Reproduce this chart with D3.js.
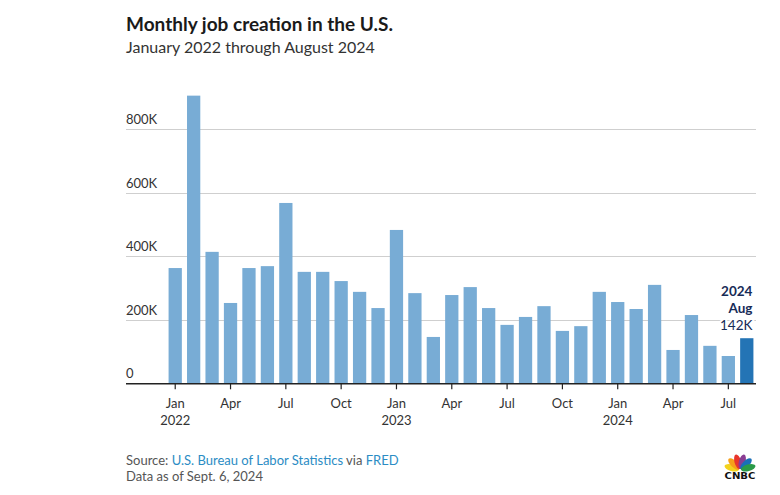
<!DOCTYPE html>
<html><head><meta charset="utf-8">
<script src="https://cdn.jsdelivr.net/npm/d3@7"></script>
<style>body{margin:0;background:#fff}svg{display:block}</style>
</head><body>
<svg id="c" width="780" height="495"></svg>
<script>
const months = ["2022-01","2022-02","2022-03","2022-04","2022-05","2022-06","2022-07","2022-08","2022-09","2022-10","2022-11","2022-12",
"2023-01","2023-02","2023-03","2023-04","2023-05","2023-06","2023-07","2023-08","2023-09","2023-10","2023-11","2023-12",
"2024-01","2024-02","2024-03","2024-04","2024-05","2024-06","2024-07","2024-08"];
const jobs = [363,906,414,253,363,369,568,351,351,322,288,237,
483,284,146,278,303,237,184,209,243,165,180,288,
256,234,310,105,215,118,86,142];
const yTicks = [0,200,400,600,800];
const yTickLabels = ["0","200K","400K","600K","800K"];
const xTickMonths = ["2022-01","2022-04","2022-07","2022-10","2023-01","2023-04","2023-07","2023-10","2024-01","2024-04","2024-07"];
const xTickLabels = [["Jan","2022"],["Apr"],["Jul"],["Oct"],["Jan","2023"],["Apr"],["Jul"],["Oct"],["Jan","2024"],["Apr"],["Jul"]];

const svg = d3.select("#c");
const font = "Lato, 'Open Sans', sans-serif";
const plotLeft = 126, plotRight = 756, base = 383.3, plotTop = 129.3;

const x = d3.scaleBand().domain(months).range([166, plotRight]).paddingInner(0.28).paddingOuter(0.14);
const y = d3.scaleLinear().domain([0, 800]).range([base, plotTop]);

// title
svg.append("text").attr("x", plotLeft).attr("y", 31).attr("font-family", font).attr("font-weight", 700)
  .attr("font-size", 19).attr("fill", "#1a1a1a").text("Monthly job creation in the U.S.");
svg.append("text").attr("x", plotLeft).attr("y", 53).attr("font-family", font)
  .attr("font-size", 16).attr("fill", "#333").text("January 2022 through August 2024");

// gridlines + y labels
const g = svg.append("g");
g.selectAll("line.grid").data(yTicks.filter(d => d > 0)).join("line")
  .attr("x1", plotLeft).attr("x2", plotRight).attr("y1", d => Math.round(y(d)) + 0.5).attr("y2", d => Math.round(y(d)) + 0.5)
  .attr("stroke", "#cfcfcf").attr("stroke-width", 1);
g.selectAll("text.yl").data(yTicks).join("text")
  .attr("x", plotLeft).attr("y", d => y(d) - 5).attr("font-family", font).attr("font-size", 13)
  .attr("fill", "#333").text((d, i) => yTickLabels[i]);

// bars
svg.append("g").selectAll("rect").data(months).join("rect")
  .attr("x", d => x(d)).attr("width", x.bandwidth())
  .attr("y", (d, i) => y(jobs[i])).attr("height", (d, i) => base - y(jobs[i]))
  .attr("fill", (d, i) => i === months.length - 1 ? "#2474b5" : "#78acd5");

// x axis
svg.append("line").attr("x1", plotLeft).attr("x2", plotRight).attr("y1", base + 0.5).attr("y2", base + 0.5)
  .attr("stroke", "#222").attr("stroke-width", 1.5);
const xt = svg.append("g").selectAll("g").data(xTickMonths).join("g")
  .attr("transform", d => `translate(${x(d) + x.bandwidth() / 2},0)`);
xt.append("line").attr("y1", base).attr("y2", base + 6).attr("stroke", "#222").attr("stroke-width", 1.2);
xt.each(function(d, i) {
  const lbl = xTickLabels[i];
  lbl.forEach((t, j) => {
    d3.select(this).append("text").attr("y", 408 + j * 17).attr("text-anchor", "middle")
      .attr("font-family", font).attr("font-size", 13).attr("fill", "#333").text(t);
  });
});

// annotation
const last = months.length - 1;
const ann = svg.append("g").attr("font-family", font).attr("text-anchor", "end")
  .attr("stroke", "#fff").attr("stroke-width", 4).attr("paint-order", "stroke").attr("stroke-linejoin", "round");
const ax = x(months[last]) + x.bandwidth() - 1;
ann.append("text").attr("x", ax).attr("y", 296).attr("font-weight", 700).attr("font-size", 13.5).attr("fill", "#172c57").text("2024");
ann.append("text").attr("x", ax).attr("y", 313).attr("font-weight", 700).attr("font-size", 13.5).attr("fill", "#172c57").text("Aug");
ann.append("text").attr("x", ax).attr("y", 330).attr("font-size", 13.5).attr("fill", "#172c57").text(jobs[last] + "K");

// source
const src = svg.append("text").attr("x", plotLeft).attr("y", 465).attr("font-family", font).attr("font-size", 13).attr("fill", "#555");
src.append("tspan").text("Source: ");
src.append("tspan").attr("fill", "#2b8cc4").text("U.S. Bureau of Labor Statistics");
src.append("tspan").text(" via ");
src.append("tspan").attr("fill", "#2b8cc4").text("FRED");
svg.append("text").attr("x", plotLeft).attr("y", 481).attr("font-family", font).attr("font-size", 13).attr("fill", "#555").text("Data as of Sept. 6, 2024");

// CNBC logo
const logo = svg.append("g").attr("transform", "translate(740,470)");
const petalsOrdered = ["#f3d21c","#f6a01a","#e8352b","#8a3d93","#1a6fb8","#2a9a48"];
petalsOrdered.forEach((c, i) => {
  const ang = -75 + i * 30;
  logo.append("ellipse").attr("cx", 0).attr("cy", -8.5).attr("rx", 3.3).attr("ry", 7.5)
    .attr("fill", c).attr("transform", `rotate(${ang})`);
});
logo.append("text").attr("x", -15.5).attr("y", 8.5).attr("textLength", 31).attr("lengthAdjust", "spacingAndGlyphs")
  .attr("font-family", "'DejaVu Sans', sans-serif")
  .attr("font-weight", 700).attr("font-size", 9.5).attr("fill", "#111").text("CNBC");
</script>
</body></html>
